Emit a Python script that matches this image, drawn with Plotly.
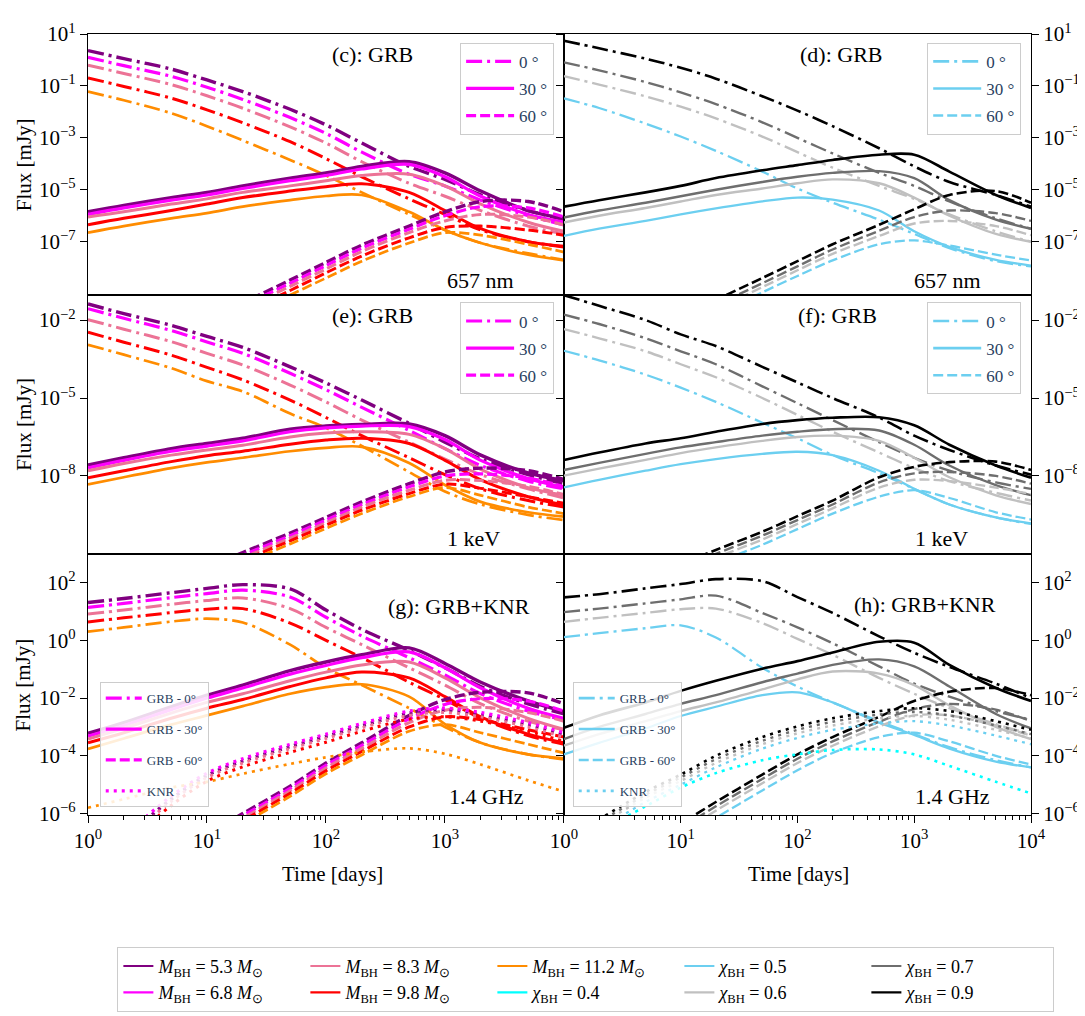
import plotly.graph_objects as go
from plotly.subplots import make_subplots

# ---------------- data (log10 of flux in mJy) ----------------
T_DAYS = [1, 2, 5, 10, 20, 50, 100, 200, 500, 1000, 2000, 5000, 10000]

MASSES = ["5.3", "6.8", "8.3", "9.8", "11.2"]
SPINS = ["0.5", "0.6", "0.7", "0.9"]
MASS_COLORS = {"5.3": "#800080", "6.8": "#FF00FF", "8.3": "#EC7396", "9.8": "#FF0000", "11.2": "#FF8C00"}
SPIN_COLORS = {"0.4": "#00FFFF", "0.5": "#6CCFF0", "0.6": "#C0C0C0", "0.7": "#6E6E6E", "0.9": "#000000"}

# (c) 657 nm, mass sequence
C_0DEG = {
    "5.3": [0.36, 0.05, -0.35, -0.77, -1.22, -1.9, -2.5, -3.2, -4.1, -4.6, -5.2, -5.8, -6.15],
    "6.8": [0.10, -0.22, -0.63, -1.05, -1.52, -2.22, -2.83, -3.55, -4.4, -4.85, -5.4, -6.0, -6.35],
    "8.3": [-0.2, -0.52, -0.95, -1.38, -1.86, -2.58, -3.2, -3.92, -4.75, -5.25, -5.8, -6.4, -6.7],
    "9.8": [-0.69, -1.02, -1.47, -1.92, -2.42, -3.15, -3.8, -4.5, -5.35, -5.95, -6.55, -7.0, -7.2],
    "11.2": [-1.22, -1.55, -2.05, -2.55, -3.1, -3.85, -4.45, -5.1, -5.95, -6.55, -7.05, -7.45, -7.7],
}
C_30DEG = {
    "5.3": [-5.85, -5.6, -5.3, -5.1, -4.85, -4.55, -4.35, -4.1, -3.92, -4.35, -5.05, -5.8, -6.1],
    "6.8": [-5.95, -5.7, -5.4, -5.2, -4.95, -4.65, -4.45, -4.2, -4.02, -4.5, -5.25, -5.95, -6.25],
    "8.3": [-6.05, -5.85, -5.55, -5.35, -5.1, -4.85, -4.65, -4.45, -4.4, -4.85, -5.55, -6.25, -6.6],
    "9.8": [-6.35, -6.1, -5.8, -5.55, -5.3, -5.05, -4.88, -4.77, -5.1, -5.8, -6.5, -7.0, -7.18],
    "11.2": [-6.65, -6.4, -6.1, -5.9, -5.65, -5.4, -5.24, -5.2, -5.85, -6.55, -7.05, -7.5, -7.72],
}
C_60DEG = {
    "5.3": [-12.3, -11.6, -10.7, -10.0, -9.35, -8.48, -7.8, -7.13, -6.4, -5.85, -5.45, -5.45, -5.85],
    "6.8": [-12.4, -11.7, -10.8, -10.1, -9.46, -8.6, -7.92, -7.25, -6.52, -6.0, -5.65, -5.7, -6.05],
    "8.3": [-12.5, -11.8, -10.9, -10.22, -9.58, -8.72, -8.05, -7.38, -6.65, -6.2, -5.95, -6.05, -6.35],
    "9.8": [-12.65, -11.95, -11.05, -10.38, -9.74, -8.88, -8.2, -7.55, -6.85, -6.45, -6.4, -6.55, -6.75],
    "11.2": [-12.8, -12.1, -11.2, -10.55, -9.9, -9.05, -8.4, -7.75, -7.05, -6.65, -6.75, -7.1, -7.4],
}

# (d) 657 nm, spin sequence
D_0DEG = {
    "0.5": [-1.48, -1.85, -2.45, -2.95, -3.5, -4.3, -4.95, -5.5, -6.15, -6.7, -7.25, -7.75, -7.95],
    "0.6": [-0.62, -0.95, -1.4, -1.8, -2.25, -2.95, -3.55, -4.15, -4.85, -5.35, -5.95, -6.6, -7.0],
    "0.7": [-0.09, -0.4, -0.85, -1.25, -1.7, -2.4, -3.0, -3.6, -4.35, -4.85, -5.45, -6.1, -6.5],
    "0.9": [0.74, 0.45, 0.05, -0.3, -0.72, -1.4, -1.95, -2.55, -3.4, -4.1, -4.7, -5.2, -5.65],
}
D_30DEG = {
    "0.5": [-6.78, -6.5, -6.2, -5.95, -5.72, -5.45, -5.3, -5.38, -5.8, -6.6, -7.2, -7.7, -7.92],
    "0.6": [-6.26, -6.0, -5.7, -5.45, -5.2, -4.95, -4.75, -4.6, -4.75, -5.3, -6.0, -6.7, -7.0],
    "0.7": [-6.07, -5.8, -5.5, -5.25, -5.0, -4.7, -4.5, -4.35, -4.28, -4.55, -5.4, -6.15, -6.5],
    "0.9": [-5.65, -5.4, -5.1, -4.85, -4.55, -4.25, -4.05, -3.85, -3.65, -3.65, -4.3, -5.2, -5.7],
}
D_60DEG = {
    "0.5": [-12.75, -12.05, -11.15, -10.5, -9.8, -8.95, -8.32, -7.72, -7.1, -6.95, -7.15, -7.5, -7.72],
    "0.6": [-12.55, -11.85, -10.95, -10.3, -9.6, -8.75, -8.1, -7.47, -6.78, -6.3, -6.2, -6.4, -6.75],
    "0.7": [-12.4, -11.7, -10.8, -10.15, -9.45, -8.6, -7.95, -7.3, -6.58, -6.05, -5.8, -5.9, -6.2],
    "0.9": [-12.2, -11.5, -10.6, -9.95, -9.25, -8.4, -7.75, -7.1, -6.35, -5.75, -5.2, -5.05, -5.5],
}

# (e) 1 keV, mass sequence
E_0DEG = {
    "5.3": [-1.38, -1.75, -2.2, -2.63, -3.05, -3.8, -4.42, -5.08, -5.98, -6.7, -7.35, -7.95, -8.3],
    "6.8": [-1.56, -1.93, -2.4, -2.84, -3.28, -4.05, -4.68, -5.36, -6.25, -6.95, -7.6, -8.2, -8.5],
    "8.3": [-1.98, -2.35, -2.83, -3.28, -3.73, -4.5, -5.15, -5.85, -6.7, -7.35, -7.95, -8.5, -8.85],
    "9.8": [-2.47, -2.85, -3.35, -3.82, -4.3, -5.08, -5.75, -6.45, -7.3, -7.95, -8.5, -8.95, -9.2],
    "11.2": [-2.95, -3.33, -3.85, -4.35, -4.75, -5.6, -6.15, -6.85, -7.85, -8.6, -9.1, -9.5, -9.7],
}
E_30DEG = {
    "5.3": [-7.58, -7.3, -6.95, -6.75, -6.55, -6.2, -6.08, -6.02, -6.0, -6.45, -7.2, -7.88, -8.18],
    "6.8": [-7.69, -7.4, -7.05, -6.85, -6.65, -6.3, -6.15, -6.08, -6.1, -6.6, -7.4, -8.1, -8.44],
    "8.3": [-7.8, -7.52, -7.2, -7.0, -6.82, -6.5, -6.35, -6.3, -6.4, -6.95, -7.75, -8.45, -8.74],
    "9.8": [-8.07, -7.8, -7.45, -7.22, -7.05, -6.78, -6.62, -6.55, -6.75, -7.4, -8.15, -8.8, -9.12],
    "11.2": [-8.33, -8.05, -7.7, -7.48, -7.3, -7.05, -6.92, -6.88, -7.5, -8.35, -9.0, -9.4, -9.57],
}
E_60DEG = {
    "5.3": [-14.0, -13.2, -12.2, -11.5, -10.95, -10.2, -9.6, -9.0, -8.3, -7.85, -7.7, -7.8, -8.14],
    "6.8": [-14.1, -13.3, -12.3, -11.6, -11.05, -10.3, -9.7, -9.1, -8.42, -8.0, -7.92, -8.08, -8.42],
    "8.3": [-14.2, -13.4, -12.4, -11.7, -11.15, -10.4, -9.8, -9.2, -8.55, -8.17, -8.18, -8.4, -8.72],
    "9.8": [-14.3, -13.5, -12.5, -11.8, -11.25, -10.5, -9.9, -9.32, -8.68, -8.32, -8.48, -8.8, -9.05],
    "11.2": [-14.4, -13.6, -12.6, -11.9, -11.35, -10.62, -10.02, -9.45, -8.8, -8.45, -8.75, -9.2, -9.45],
}

# (f) 1 keV, spin sequence
F_0DEG = {
    "0.5": [-3.18, -3.55, -4.1, -4.6, -5.15, -5.95, -6.55, -7.2, -7.9, -8.5, -9.1, -9.6, -9.85],
    "0.6": [-2.35, -2.7, -3.2, -3.7, -4.2, -5.0, -5.65, -6.3, -7.1, -7.7, -8.2, -8.65, -8.95],
    "0.7": [-1.79, -2.15, -2.7, -3.2, -3.7, -4.55, -5.2, -5.85, -6.7, -7.3, -7.8, -8.25, -8.5],
    "0.9": [-1.04, -1.45, -2.0, -2.55, -3.0, -3.8, -4.4, -5.0, -5.75, -6.45, -7.0, -7.6, -7.95],
}
F_30DEG = {
    "0.5": [-8.44, -8.15, -7.8, -7.55, -7.35, -7.15, -7.07, -7.2, -7.8, -8.5, -9.1, -9.6, -9.83],
    "0.6": [-7.99, -7.72, -7.38, -7.12, -6.9, -6.65, -6.5, -6.45, -6.65, -7.3, -8.05, -8.75, -9.08],
    "0.7": [-7.77, -7.5, -7.15, -6.9, -6.7, -6.45, -6.3, -6.2, -6.25, -6.8, -7.6, -8.35, -8.74],
    "0.9": [-7.39, -7.1, -6.75, -6.55, -6.3, -6.0, -5.85, -5.76, -5.74, -6.05, -6.8, -7.6, -8.07],
}
F_60DEG = {
    "0.5": [-14.5, -13.7, -12.6, -11.9, -11.35, -10.65, -10.05, -9.45, -8.8, -8.55, -8.85, -9.4, -9.68],
    "0.6": [-14.3, -13.5, -12.4, -11.7, -11.15, -10.45, -9.85, -9.25, -8.45, -8.15, -8.2, -8.45, -8.7],
    "0.7": [-14.15, -13.35, -12.25, -11.55, -11.0, -10.3, -9.7, -9.1, -8.25, -7.9, -7.85, -8.0, -8.3],
    "0.9": [-14.0, -13.2, -12.1, -11.4, -10.85, -10.15, -9.55, -8.95, -8.05, -7.65, -7.47, -7.45, -7.77],
}

# (g) 1.4 GHz, mass sequence
G_0DEG = {
    "5.3": [1.31, 1.45, 1.65, 1.8, 1.93, 1.78, 1.05, 0.38, -0.35, -0.95, -1.6, -2.2, -2.55],
    "6.8": [1.14, 1.28, 1.48, 1.62, 1.74, 1.5, 0.8, 0.15, -0.6, -1.2, -1.85, -2.45, -2.75],
    "8.3": [0.91, 1.05, 1.25, 1.38, 1.47, 1.1, 0.45, -0.15, -0.95, -1.55, -2.2, -2.8, -3.1],
    "9.8": [0.64, 0.78, 0.96, 1.08, 1.1, 0.6, 0.0, -0.6, -1.45, -2.05, -2.7, -3.3, -3.6],
    "11.2": [0.30, 0.45, 0.65, 0.75, 0.62, -0.15, -0.95, -1.55, -2.35, -3.0, -3.55, -3.95, -4.12],
}
G_30DEG = {
    "5.3": [-3.22, -2.85, -2.3, -1.9, -1.55, -1.05, -0.75, -0.5, -0.26, -0.8, -1.45, -2.1, -2.47],
    "6.8": [-3.32, -2.95, -2.4, -2.0, -1.65, -1.17, -0.87, -0.6, -0.4, -0.95, -1.65, -2.35, -2.7],
    "8.3": [-3.42, -3.05, -2.52, -2.15, -1.85, -1.4, -1.1, -0.85, -0.75, -1.3, -2.0, -2.7, -3.08],
    "9.8": [-3.55, -3.2, -2.7, -2.35, -2.05, -1.6, -1.3, -1.1, -1.3, -1.95, -2.65, -3.25, -3.55],
    "11.2": [-3.76, -3.4, -2.92, -2.6, -2.28, -1.85, -1.62, -1.52, -1.95, -2.9, -3.55, -3.95, -4.09],
}
G_60DEG = {
    "5.3": [-9.0, -8.3, -7.4, -6.7, -6.0, -5.05, -4.25, -3.55, -2.6, -2.05, -1.8, -1.82, -2.2],
    "6.8": [-9.08, -8.38, -7.48, -6.78, -6.08, -5.13, -4.33, -3.64, -2.72, -2.22, -2.02, -2.1, -2.45],
    "8.3": [-9.16, -8.46, -7.56, -6.86, -6.16, -5.21, -4.42, -3.74, -2.85, -2.42, -2.32, -2.5, -2.8],
    "9.8": [-9.25, -8.55, -7.65, -6.95, -6.25, -5.3, -4.52, -3.85, -3.0, -2.65, -2.75, -3.1, -3.35],
    "11.2": [-9.35, -8.65, -7.75, -7.05, -6.35, -5.4, -4.62, -3.97, -3.15, -2.92, -3.2, -3.6, -3.9],
}
G_KNR = {
    "5.3": [-7.7, -6.85, -5.5, -4.68, -4.18, -3.68, -3.33, -2.96, -2.52, -2.42, -2.57, -2.92, -3.27],
    "6.8": [-7.6, -6.75, -5.4, -4.6, -4.1, -3.6, -3.25, -2.88, -2.45, -2.35, -2.5, -2.85, -3.2],
    "8.3": [-7.8, -6.95, -5.58, -4.75, -4.25, -3.75, -3.4, -3.03, -2.6, -2.5, -2.65, -3.0, -3.35],
    "9.8": [-7.95, -7.1, -5.72, -4.88, -4.38, -3.88, -3.53, -3.15, -2.73, -2.65, -2.8, -3.15, -3.5],
    "11.2": [-5.8, -5.5, -5.1, -4.9, -4.62, -4.28, -4.05, -3.87, -3.74, -3.93, -4.3, -4.85, -5.24],
}

# (h) 1.4 GHz, spin sequence
H_0DEG = {
    "0.5": [0.11, 0.25, 0.42, 0.52, 0.1, -0.95, -1.6, -2.15, -2.8, -3.25, -3.7, -4.15, -4.4],
    "0.6": [0.64, 0.78, 0.95, 1.08, 1.1, 0.6, 0.05, -0.5, -1.3, -1.85, -2.35, -2.9, -3.25],
    "0.7": [0.98, 1.1, 1.28, 1.42, 1.55, 0.95, 0.45, -0.1, -0.9, -1.5, -1.95, -2.45, -2.75],
    "0.9": [1.49, 1.6, 1.8, 1.95, 2.12, 2.05, 1.5, 0.95, 0.14, -0.43, -0.92, -1.5, -2.0],
}
H_30DEG = {
    "0.5": [-3.95, -3.55, -3.05, -2.62, -2.3, -1.9, -1.8, -2.15, -2.85, -3.28, -3.75, -4.2, -4.4],
    "0.6": [-3.65, -3.25, -2.8, -2.45, -2.15, -1.7, -1.35, -1.08, -1.15, -1.55, -2.25, -3.0, -3.42],
    "0.7": [-3.42, -3.0, -2.55, -2.2, -1.9, -1.45, -1.15, -0.85, -0.66, -0.9, -1.6, -2.55, -3.05],
    "0.9": [-3.03, -2.6, -2.15, -1.75, -1.4, -0.98, -0.72, -0.42, -0.05, -0.08, -0.85, -1.65, -2.1],
}
H_60DEG = {
    "0.5": [-9.3, -8.6, -7.65, -6.9, -6.15, -5.2, -4.5, -3.9, -3.35, -3.2, -3.5, -4.0, -4.3],
    "0.6": [-9.05, -8.35, -7.4, -6.65, -5.9, -4.95, -4.25, -3.65, -2.98, -2.6, -2.6, -2.95, -3.3],
    "0.7": [-8.9, -8.2, -7.25, -6.5, -5.75, -4.8, -4.1, -3.5, -2.82, -2.38, -2.2, -2.4, -2.8],
    "0.9": [-8.75, -8.05, -7.1, -6.35, -5.6, -4.65, -3.95, -3.35, -2.65, -2.1, -1.78, -1.65, -1.9],
}
H_KNR = {
    "0.4": [-7.2, -6.6, -5.75, -5.1, -4.6, -4.15, -3.95, -3.8, -3.78, -3.95, -4.35, -4.9, -5.3],
    "0.5": [-7.25, -6.55, -5.6, -5.0, -4.4, -3.75, -3.38, -3.1, -2.88, -2.8, -2.95, -3.3, -3.6],
    "0.6": [-7.1, -6.4, -5.45, -4.87, -4.25, -3.6, -3.22, -2.95, -2.7, -2.62, -2.75, -3.1, -3.4],
    "0.7": [-7.0, -6.3, -5.35, -4.75, -4.12, -3.48, -3.1, -2.82, -2.57, -2.48, -2.6, -2.95, -3.25],
    "0.9": [-6.9, -6.2, -5.25, -4.65, -4.0, -3.35, -2.98, -2.7, -2.45, -2.35, -2.45, -2.8, -3.1],
}

# axis ticks
X_TICKVALS = [1, 10, 100, 1000, 10000]
X_TICKTEXT = ["10<sup>0</sup>", "10<sup>1</sup>", "10<sup>2</sup>", "10<sup>3</sup>", "10<sup>4</sup>"]
Y1_EXP = [1, -1, -3, -5, -7]
Y2_EXP = [-2, -5, -8]
Y3_EXP = [2, 0, -2, -4, -6]

LEGEND_ROW_ORDER = [("m", "5.3"), ("m", "8.3"), ("m", "11.2"), ("s", "0.5"), ("s", "0.7"),
                    ("m", "6.8"), ("m", "9.8"), ("s", "0.4"), ("s", "0.6"), ("s", "0.9")]

# ---------------- styling ----------------
FONT = "Liberation Serif, Times New Roman, serif"
DD = "16px,5px,3px,5px"
DASH = "10px,4px"
DOT = "3px,5px"
MASS_W = {"5.3": 3.4, "6.8": 3.2, "8.3": 3.0, "9.8": 3.0, "11.2": 2.7}
SPIN_W = {"0.4": 2.6, "0.5": 2.3, "0.6": 2.4, "0.7": 2.4, "0.9": 2.6}

fig = make_subplots(rows=3, cols=2, horizontal_spacing=0, vertical_spacing=0)


def add_family(data, colors, widths, dash, row, col):
    for key, vals in data.items():
        fig.add_trace(go.Scatter(
            x=T_DAYS, y=[10 ** v for v in vals], mode="lines",
            line=dict(color=colors[key], width=widths[key], dash=dash, shape="spline", smoothing=0.9),
            showlegend=False, hoverinfo="skip"), row=row, col=col)


panels = [
    (1, 1, [(C_0DEG, DD), (C_30DEG, "solid"), (C_60DEG, DASH)], "m"),
    (1, 2, [(D_0DEG, DD), (D_30DEG, "solid"), (D_60DEG, DASH)], "s"),
    (2, 1, [(E_0DEG, DD), (E_30DEG, "solid"), (E_60DEG, DASH)], "m"),
    (2, 2, [(F_0DEG, DD), (F_30DEG, "solid"), (F_60DEG, DASH)], "s"),
    (3, 1, [(G_0DEG, DD), (G_30DEG, "solid"), (G_60DEG, DASH), (G_KNR, DOT)], "m"),
    (3, 2, [(H_0DEG, DD), (H_30DEG, "solid"), (H_60DEG, DASH), (H_KNR, DOT)], "s"),
]
for row, col, fams, kind in panels:
    colors = MASS_COLORS if kind == "m" else SPIN_COLORS
    widths = MASS_W if kind == "m" else SPIN_W
    for data, dash in fams:
        add_family(data, colors, widths, dash, row, col)

# panel legends (angle legends)
angle_legends = [("legend2", "#FF00FF", 3.2), ("legend3", "#6CCFF0", 2.6),
                 ("legend4", "#FF00FF", 3.2), ("legend5", "#6CCFF0", 2.6)]
for lg, colr, w in angle_legends:
    for i, (name, dash) in enumerate([("0 °", DD), ("30 °", "solid"), ("60 °", DASH)]):
        fig.add_trace(go.Scatter(x=[None], y=[None], mode="lines", name=name,
                                 line=dict(color=colr, width=w, dash=dash),
                                 legend=lg, legendgroup=f"{lg}_{i}", showlegend=True))
for lg, colr, w in [("legend6", "#FF00FF", 3.2), ("legend7", "#6CCFF0", 2.6)]:
    for i, (name, dash) in enumerate([("GRB - 0°", DD), ("GRB - 30°", "solid"),
                                      ("GRB - 60°", DASH), ("KNR", DOT)]):
        fig.add_trace(go.Scatter(x=[None], y=[None], mode="lines", name=name,
                                 line=dict(color=colr, width=w, dash=dash),
                                 legend=lg, legendgroup=f"{lg}_{i}", showlegend=True))

# main legend
for kind, key in LEGEND_ROW_ORDER:
    if kind == "m":
        name = f"<i>M</i><sub>BH</sub> = {key} <i>M</i><sub>⊙</sub>"
        colr = MASS_COLORS[key]
    else:
        name = f"<i>χ</i><sub>BH</sub> = {key}"
        colr = SPIN_COLORS[key]
    fig.add_trace(go.Scatter(x=[None], y=[None], mode="lines", name=name,
                             line=dict(color=colr, width=2.2), legend="legend", showlegend=True))

# ---------------- axes ----------------
XL = [0, 0.5047]
XR = [0.5047, 1.0]
ROWS = {1: [0.66625, 1.0], 2: [0.33375, 0.66625], 3: [0.0, 0.33375]}
YRANGE = {1: [-9.04, 1.0], 2: [-11.02, -1.02], 3: [-6.05, 2.98]}
YEXP = {1: Y1_EXP, 2: Y2_EXP, 3: Y3_EXP}
MINOR_X = [m * 10 ** k for k in range(4) for m in range(2, 10)]


def sup(e):
    return "10<sup>" + (str(e) if e >= 0 else "−" + str(-e)) + "</sup>"


tickfont = dict(family=FONT, size=21, color="black")
for row in (1, 2, 3):
    for col in (1, 2):
        bottom = row == 3
        xa = dict(type="log", range=[0, 4], domain=XL if col == 1 else XR,
                  showline=True, linecolor="black", linewidth=1.2, mirror=True,
                  showgrid=False, zeroline=False, tickfont=tickfont)
        if bottom:
            tv = X_TICKVALS if col == 2 else X_TICKVALS[:-1]
            tt = X_TICKTEXT if col == 2 else X_TICKTEXT[:-1]
            xa.update(tickmode="array", tickvals=tv, ticktext=tt, ticks="outside",
                      ticklen=7, tickwidth=1.2, tickcolor="black",
                      minor=dict(tickmode="array", tickvals=MINOR_X, ticks="outside",
                                 ticklen=4, tickwidth=1, tickcolor="black", showgrid=False))
        else:
            xa.update(showticklabels=False, ticks="")
        ya = dict(type="log", range=YRANGE[row], domain=ROWS[row],
                  showline=True, linecolor="black", linewidth=1.2,
                  showgrid=False, zeroline=False, tickfont=tickfont,
                  tickmode="array", tickvals=[10 ** e for e in YEXP[row]],
                  ticktext=[sup(e) for e in YEXP[row]], ticks="outside",
                  ticklen=7, tickwidth=1.2, tickcolor="black")
        if col == 1:
            ya.update(mirror=True)
        else:
            ya.update(side="right", mirror="ticks")
        fig.update_xaxes(xa, row=row, col=col)
        fig.update_yaxes(ya, row=row, col=col)

# ---------------- annotations ----------------
W_PLOT, H_PLOT, ML, MT = 963, 800, 80, 20


def px(x):
    return (x - ML) / W_PLOT


def py(y):
    return 1 - (y - MT) / H_PLOT


ann = []
labels = [("(c): GRB", 371, 41), ("(d): GRB", 849, 41), ("(e): GRB", 371, 308), ("(f): GRB", 845, 308),
          ("(g): GRB+KNR", 459, 606), ("(h): GRB+KNR", 935, 604),
          ("657 nm", 481, 273), ("657 nm", 958, 273), ("1 keV", 474, 537), ("1 keV", 952, 537),
          ("1.4 GHz", 487, 801), ("1.4 GHz", 963, 801)]
for text, x, y in labels:
    ann.append(dict(text=text, x=px(x), y=py(y), xref="paper", yref="paper", showarrow=False,
                    xanchor="center", yanchor="middle", font=dict(family=FONT, size=22, color="black")))
for yc in (154, 420, 687):
    ann.append(dict(text="Flux [mJy]", x=px(14), y=py(yc), xref="paper", yref="paper", showarrow=False,
                    textangle=-90, xanchor="center", yanchor="middle",
                    font=dict(family=FONT, size=21, color="black")))
for xc in (330, 806):
    ann.append(dict(text="Time [days]", x=px(xc), y=py(880), xref="paper", yref="paper", showarrow=False,
                    xanchor="center", yanchor="middle", font=dict(family=FONT, size=21, color="black")))

leg_common = dict(bgcolor="rgba(255,255,255,0.85)", bordercolor="#CCCCCC", borderwidth=1,
                  xanchor="left", tracegroupgap=2)
fig.update_layout(
    width=1085, height=1016,
    margin=dict(l=ML, r=1085 - ML - W_PLOT, t=MT, b=1016 - MT - H_PLOT),
    paper_bgcolor="white", plot_bgcolor="white",
    annotations=ann,
    legend=dict(orientation="h", x=px(110), y=py(955), xanchor="left", yanchor="top",
                entrywidth=142, entrywidthmode="pixels", bgcolor="white",
                bordercolor="#CCCCCC", borderwidth=1,
                font=dict(family=FONT, size=18, color="black")),
    legend2=dict(leg_common, x=px(460), y=py(29), yanchor="top", itemwidth=48,
                 font=dict(family=FONT, size=17)),
    legend3=dict(leg_common, x=px(937), y=py(29), yanchor="top", itemwidth=48,
                 font=dict(family=FONT, size=17)),
    legend4=dict(leg_common, x=px(460), y=py(295), yanchor="top", itemwidth=48,
                 font=dict(family=FONT, size=17)),
    legend5=dict(leg_common, x=px(937), y=py(295), yanchor="top", itemwidth=48,
                 font=dict(family=FONT, size=17)),
    legend6=dict(leg_common, x=px(92), y=py(812), yanchor="bottom", itemwidth=36,
                 font=dict(family=FONT, size=13)),
    legend7=dict(leg_common, x=px(575), y=py(812), yanchor="bottom", itemwidth=36,
                 font=dict(family=FONT, size=13)),
)
fig.update_layout(legend6=dict(tracegroupgap=11), legend7=dict(tracegroupgap=11))

fig.write_html("out.html")
